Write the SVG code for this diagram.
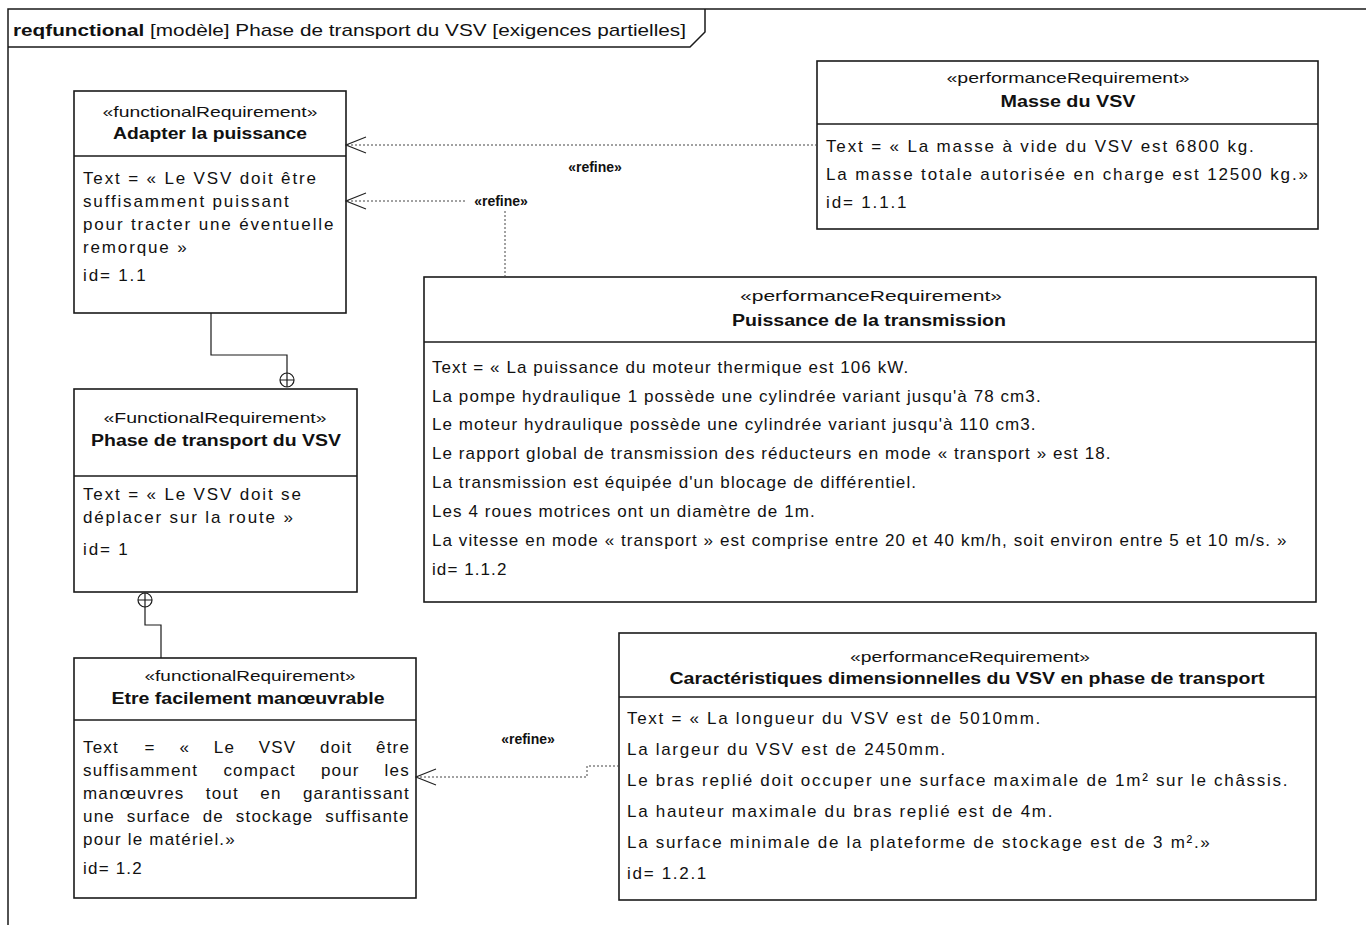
<svg xmlns="http://www.w3.org/2000/svg" width="1366" height="925" viewBox="0 0 1366 925">
<style>
text{font-family:"Liberation Sans",Arial,sans-serif;fill:#111}
.hd{font-size:17px}
.st{font-size:15px;text-anchor:middle}
.nm{font-size:16px;font-weight:bold;text-anchor:middle}
.bd{font-size:17px;letter-spacing:1.85px}
#manoeuvrable .bd{letter-spacing:1.2px}
#puissance .bd{letter-spacing:1.08px}
#caracteristiques .bd{letter-spacing:1.7px}
.lb{font-size:14px;font-weight:bold;text-anchor:middle}
.box{fill:#fff;stroke:#1a1a1a;stroke-width:1.6}
.div{stroke:#1a1a1a;stroke-width:1.6}
.dep{fill:none;stroke:#444;stroke-width:1;stroke-dasharray:2,2}
.own{fill:none;stroke:#1a1a1a;stroke-width:1.2}
</style>
<defs>
<marker id="open" viewBox="0 0 22 18" refX="21" refY="9" markerWidth="22" markerHeight="18" markerUnits="userSpaceOnUse" orient="auto">
<path d="M1,1 L21,9 L1,17" fill="none" stroke="#222" stroke-width="1.1"/>
</marker>
</defs>
<rect width="1366" height="925" fill="#fff"/>
<g id="frame">
<path d="M8,925 L8,9 L1366,9" fill="none" stroke="#1a1a1a" stroke-width="1.5"/>
<path d="M8,47 L690,47 L705,32 L705,9" fill="none" stroke="#1a1a1a" stroke-width="1.5"/>
<text class="hd" x="13" y="36" textLength="673" lengthAdjust="spacingAndGlyphs"><tspan font-weight="bold">reqfunctional</tspan> [modèle] Phase de transport du VSV [exigences partielles]</text>
</g>
<g id="adapter">
<rect class="box" x="74" y="91" width="272" height="222"/>
<line class="div" x1="74" y1="156" x2="346" y2="156"/>
<text class="st" x="210" y="117" textLength="215" lengthAdjust="spacingAndGlyphs">«functionalRequirement»</text>
<text class="nm" x="210" y="139" textLength="194" lengthAdjust="spacingAndGlyphs">Adapter la puissance</text>
<text class="bd" x="83" y="184">Text = « Le VSV doit être</text>
<text class="bd" x="83" y="207">suffisamment puissant</text>
<text class="bd" x="83" y="230">pour tracter une éventuelle</text>
<text class="bd" x="83" y="253">remorque »</text>
<text class="bd" x="83" y="281">id= 1.1</text>
</g>
<g id="phase">
<rect class="box" x="74" y="389" width="283" height="203"/>
<line class="div" x1="74" y1="476" x2="357" y2="476"/>
<text class="st" x="215" y="423" textLength="223" lengthAdjust="spacingAndGlyphs">«FunctionalRequirement»</text>
<text class="nm" x="216" y="446" textLength="250" lengthAdjust="spacingAndGlyphs">Phase de transport du VSV</text>
<text class="bd" x="83" y="500">Text = « Le VSV doit se</text>
<text class="bd" x="83" y="523">déplacer sur la route »</text>
<text class="bd" x="83" y="555">id= 1</text>
</g>
<g id="manoeuvrable">
<rect class="box" x="74" y="658" width="342" height="240"/>
<line class="div" x1="74" y1="720" x2="416" y2="720"/>
<text class="st" x="250" y="681" textLength="211" lengthAdjust="spacingAndGlyphs">«functionalRequirement»</text>
<text class="nm" x="248" y="704" textLength="273" lengthAdjust="spacingAndGlyphs">Etre facilement manœuvrable</text>
<text class="bd" y="753"><tspan x="83">Text</tspan><tspan x="144.6">=</tspan><tspan x="179.4">«</tspan><tspan x="213.8">Le</tspan><tspan x="258.8">VSV</tspan><tspan x="320.1">doit</tspan><tspan x="376">être</tspan></text>
<text class="bd" y="776"><tspan x="83">suffisamment</tspan><tspan x="223.4">compact</tspan><tspan x="320.9">pour</tspan><tspan x="384.6">les</tspan></text>
<text class="bd" y="799"><tspan x="83">manœuvres</tspan><tspan x="205.8">tout</tspan><tspan x="260.3">en</tspan><tspan x="302.9">garantissant</tspan></text>
<text class="bd" y="822"><tspan x="83">une</tspan><tspan x="126.8">surface</tspan><tspan x="202.7">de</tspan><tspan x="235.8">stockage</tspan><tspan x="325.2">suffisante</tspan></text>
<text class="bd" x="83" y="845">pour le matériel.»</text>
<text class="bd" x="83" y="874">id= 1.2</text>
</g>
<g id="masse">
<rect class="box" x="817" y="61" width="501" height="168"/>
<line class="div" x1="817" y1="124" x2="1318" y2="124"/>
<text class="st" x="1068" y="83" textLength="243" lengthAdjust="spacingAndGlyphs">«performanceRequirement»</text>
<text class="nm" x="1068" y="107" textLength="135" lengthAdjust="spacingAndGlyphs">Masse du VSV</text>
<text class="bd" x="826" y="152">Text = « La masse à vide du VSV est 6800 kg.</text>
<text class="bd" x="826" y="180">La masse totale autorisée en charge est 12500 kg.»</text>
<text class="bd" x="826" y="208">id= 1.1.1</text>
</g>
<g id="puissance">
<rect class="box" x="424" y="277" width="892" height="325"/>
<line class="div" x1="424" y1="342" x2="1316" y2="342"/>
<text class="st" x="871" y="301" textLength="262" lengthAdjust="spacingAndGlyphs">«performanceRequirement»</text>
<text class="nm" x="869" y="326" textLength="274" lengthAdjust="spacingAndGlyphs">Puissance de la transmission</text>
<text class="bd" x="432" y="373">Text = « La puissance du moteur thermique est 106 kW.</text>
<text class="bd" x="432" y="402">La pompe hydraulique 1 possède une cylindrée variant jusqu'à 78 cm3.</text>
<text class="bd" x="432" y="430">Le moteur hydraulique possède une cylindrée variant jusqu'à 110 cm3.</text>
<text class="bd" x="432" y="459">Le rapport global de transmission des réducteurs en mode « transport » est 18.</text>
<text class="bd" x="432" y="488">La transmission est équipée d'un blocage de différentiel.</text>
<text class="bd" x="432" y="517">Les 4 roues motrices ont un diamètre de 1m.</text>
<text class="bd" x="432" y="546">La vitesse en mode « transport » est comprise entre 20 et 40 km/h, soit environ entre 5 et 10 m/s. »</text>
<text class="bd" x="432" y="575">id= 1.1.2</text>
</g>
<g id="caracteristiques">
<rect class="box" x="619" y="633" width="697" height="267"/>
<line class="div" x1="619" y1="697" x2="1316" y2="697"/>
<text class="st" x="970" y="662" textLength="240" lengthAdjust="spacingAndGlyphs">«performanceRequirement»</text>
<text class="nm" x="967" y="684" textLength="595" lengthAdjust="spacingAndGlyphs">Caractéristiques dimensionnelles du VSV en phase de transport</text>
<text class="bd" x="627" y="724">Text = « La longueur du VSV est de 5010mm.</text>
<text class="bd" x="627" y="755">La largeur du VSV est de 2450mm.</text>
<text class="bd" x="627" y="786">Le bras replié doit occuper une surface maximale de 1m² sur le châssis.</text>
<text class="bd" x="627" y="817">La hauteur maximale du bras replié est de 4m.</text>
<text class="bd" x="627" y="848">La surface minimale de la plateforme de stockage est de 3 m².»</text>
<text class="bd" x="627" y="879">id= 1.2.1</text>
</g>
<g id="connectors">
<path class="dep" d="M817,145 L346,145" marker-end="url(#open)"/>
<text class="lb" x="595" y="172">«refine»</text>
<path class="dep" d="M505,277 L505,201 L346,201" marker-end="url(#open)"/>
<rect x="466" y="192" width="72" height="18" fill="#fff"/>
<text class="lb" x="501" y="206">«refine»</text>
<path class="dep" d="M619,766 L587,766 L587,777 L416,777" marker-end="url(#open)"/>
<text class="lb" x="528" y="744">«refine»</text>
<path class="own" d="M211,313 L211,355 L287,355 L287,373"/>
<circle class="own" cx="287" cy="380" r="7" fill="#fff"/>
<path class="own" d="M280,380 L294,380 M287,373 L287,387"/>
<circle class="own" cx="145" cy="600" r="7" fill="#fff"/>
<path class="own" d="M138,600 L152,600 M145,593 L145,607 L145,625 L161,625 L161,658"/>
</g>
</svg>
